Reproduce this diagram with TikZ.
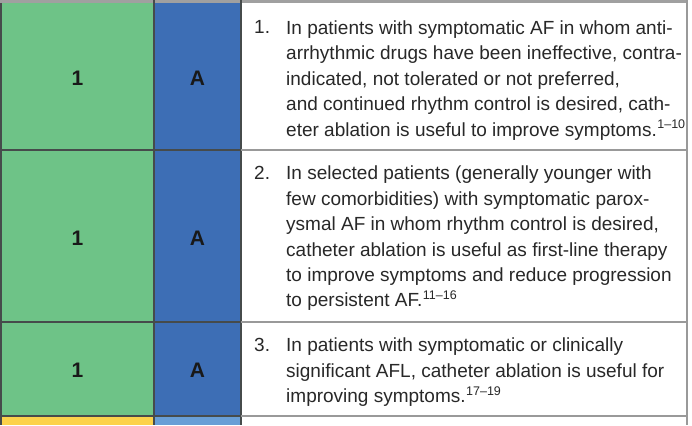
\documentclass[tikz,border=0pt]{standalone}
\usepackage{fontspec}
\setmainfont{Liberation Sans}
\definecolor{cgreen}{RGB}{110,195,135}
\definecolor{cblue}{RGB}{61,110,181}
\definecolor{cyellow}{RGB}{252,210,75}
\definecolor{clblue}{RGB}{104,158,214}
\definecolor{bandgray}{RGB}{160,160,160}
\definecolor{gridline}{RGB}{70,75,75}
\definecolor{txt}{RGB}{40,40,40}
\newcommand{\refsup}[1]{\kern0.5pt\raisebox{0.40em}{\fontsize{12.5}{12.5}\selectfont #1}}
\tikzset{
  cls/.style={font=\fontsize{21}{21}\selectfont\bfseries, text=black!90, inner sep=0pt},
  numtxt/.style={font=\fontsize{19}{25.4}\selectfont, text=txt, inner sep=0pt, anchor=north west},
  body/.style={font=\fontsize{19}{25.4}\selectfont, text=txt, inner sep=0pt, anchor=north west, align=left},
  grid/.style={draw=gridline, line width=1.1pt},
  gridr/.style={draw=black!40, line width=1.2pt}
}
\begin{document}
\begin{tikzpicture}[x=1pt,y=-1pt]
\useasboundingbox (0,0) rectangle (692,425);
\fill[white] (0,0) rectangle (692,425);
% cell fills
\fill[cgreen] (1,2) rectangle (154,416);
\fill[cblue] (154,2) rectangle (241,416);
\fill[cyellow] (1,416) rectangle (154,425);
\fill[clblue] (154,416) rectangle (241,425);
% top band
\fill[bandgray] (0,0) rectangle (688,2.8);
% vertical lines
\draw[grid] (1,2.8) -- (1,425);
\draw[grid] (154,0) -- (154,425);
\draw[grid] (241,0) -- (241,425);
\draw[gridr] (687,0) -- (687,425);
% horizontal lines
\draw[grid] (1,150) -- (241,150);
\draw[grid] (1,322) -- (241,322);
\draw[grid] (1,416) -- (241,416);
\draw[gridr] (241,150) -- (687,150);
\draw[gridr] (241,322) -- (687,322);
\draw[gridr] (241,416) -- (687,416);
% class / level
\node[cls] (c1) at (77.5,78.3) {1};
\node[cls] (l1) at (197.5,78.3) {A};
\node[cls] (c2) at (77.5,238) {1};
\node[cls] (l2) at (197.5,238) {A};
\node[cls] (c3) at (77.5,370) {1};
\node[cls] (l3) at (197.5,370) {A};
% recommendations
\node[numtxt] (n1) at (254,20.5) {1.};
\node[body] (t1) at (286,20.5) {In patients with symptomatic AF in whom anti-\\
arrhythmic drugs have been ineffective, contra-\\
indicated, not tolerated or not preferred,\\
and continued rhythm control is desired, cath-\\
eter ablation is useful to improve symptoms.\refsup{1--10}};
\node[numtxt] (n2) at (254,166) {2.};
\node[body] (t2) at (286,166) {In selected patients (generally younger with\\
few comorbidities) with symptomatic parox-\\
ysmal AF in whom rhythm control is desired,\\
catheter ablation is useful as first-line therapy\\
to improve symptoms and reduce progression\\
to persistent AF.\refsup{11--16}};
\node[numtxt] (n3) at (254,338) {3.};
\node[body] (t3) at (286,338) {In patients with symptomatic or clinically\\
significant AFL, catheter ablation is useful for\\
improving symptoms.\refsup{17--19}};
\end{tikzpicture}
\end{document}
